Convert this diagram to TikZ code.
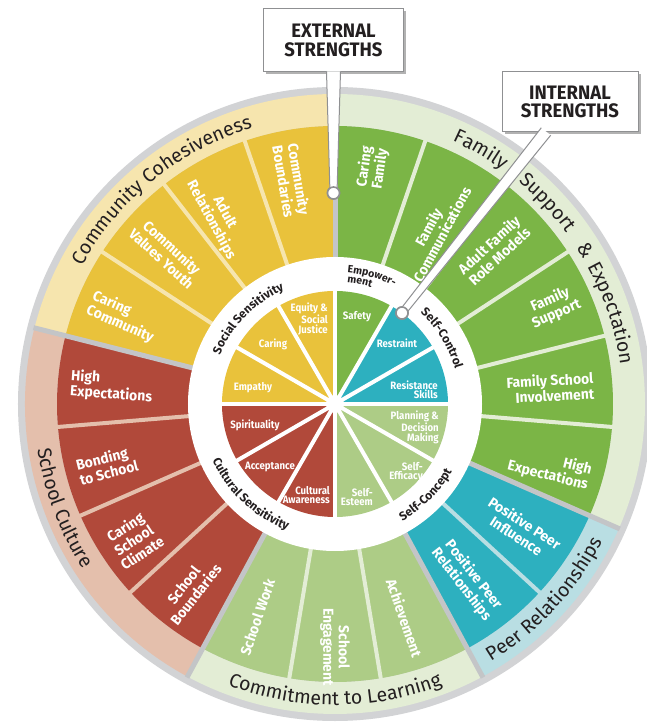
\documentclass[tikz,border=0pt]{standalone}
\usepackage{fontspec}
\setmainfont{Fira Sans}
\newfontfamily\labfam[FakeStretch=0.96]{Fira Sans}
\newfontfamily\innfam[FakeStretch=0.9]{Fira Sans}
\newfontfamily\callfam[FakeStretch=0.95]{Fira Sans}
\usetikzlibrary{decorations.text,calc,shadows}
\definecolor{cyel}{HTML}{E9C23B}
\definecolor{cyelband}{HTML}{F6E5AE}
\definecolor{cgrn}{HTML}{7BB546}
\definecolor{cgrnband}{HTML}{E3EDD5}
\definecolor{cteal}{HTML}{2DB0BF}
\definecolor{ctealband}{HTML}{B9DEE3}
\definecolor{clgrn}{HTML}{ADCC86}
\definecolor{cred}{HTML}{B1493A}
\definecolor{credband}{HTML}{E4BFAC}
\definecolor{cgrey}{HTML}{D2D3D5}
\definecolor{cdiv}{HTML}{C3C5C7}
\definecolor{cptr}{HTML}{8F9092}
\definecolor{ink}{HTML}{231F20}
\newcommand\wedgefill[5]{\fill[#1] (#2:#4) arc[start angle=#2,end angle=#3,radius=#4] -- (#3:#5) arc[start angle=#3,end angle=#2,radius=#5] -- cycle;}
\newcommand\bandfont{\fontsize{19.5}{20}\selectfont}
\newcommand\catfont{\bfseries\fontsize{12}{12}\selectfont}
\newcommand\cwtext[5]{\path[decorate,decoration={text along path,text={|#1|#2},text align=center,text color=ink}] ({#3+#5}:#4) arc[start angle={#3+#5},end angle={#3-#5},radius=#4];}
\newcommand\ccwtext[5]{\path[decorate,decoration={text along path,text={|#1|#2},text align=center,text color=ink}] ({#3-#5}:#4) arc[start angle={#3-#5},end angle={#3+#5},radius=#4];}
\tikzset{
  outlab/.style={text=white, font=\labfam\bfseries\fontsize{14.5}{15.5}\selectfont, align=center, inner sep=0pt},
  innlab/.style={text=white, font=\innfam\bfseries\fontsize{10.7}{9.4}\selectfont, align=center, inner sep=0pt},
  callbox/.style={draw=cptr, line width=1pt, fill=white, text=ink, align=center,
    font=\callfam\bfseries\fontsize{19.5}{18.5}\selectfont,
    drop shadow={shadow xshift=2.5pt, shadow yshift=-2.5pt, fill=black!30, opacity=1}},
  ptrdot/.style={circle, fill=white, draw=cptr, line width=1.6pt, minimum size=12pt, inner sep=0pt},
}
\begin{document}
\begin{tikzpicture}[x=1pt,y=1pt]
\fill[white] (-335,-318) rectangle (311,404);
\useasboundingbox (-335,-318) rectangle (311,404);
\def\s{18.947368}
% outer grey ring
\fill[cgrey] (0,0) circle[radius=317pt];
% category bands
\wedgefill{cgrnband}{90}{-23.684}{278pt}{310pt}
\wedgefill{ctealband}{-23.684}{-61.579}{278pt}{310pt}
\wedgefill{cgrnband}{-61.579}{-118.421}{278pt}{310pt}
\wedgefill{credband}{-118.421}{-194.211}{278pt}{310pt}
\wedgefill{cyelband}{165.789}{90}{278pt}{310pt}
% outer segments
\foreach \k/\c in {0/cgrn,1/cgrn,2/cgrn,3/cgrn,4/cgrn,5/cgrn,6/cteal,7/cteal,8/clgrn,9/clgrn,10/clgrn,11/cred,12/cred,13/cred,14/cred,15/cyel,16/cyel,17/cyel,18/cyel}{
  \pgfmathsetmacro\aa{90-\k*\s}
  \pgfmathsetmacro\bb{90-(\k+1)*\s}
  \wedgefill{\c}{\aa}{\bb}{146pt}{278pt}
}
% gaps within categories
\foreach \k/\c in {1/cgrnband,2/cgrnband,3/cgrnband,4/cgrnband,5/cgrnband,7/ctealband,9/cgrnband,10/cgrnband,12/credband,13/credband,14/credband,16/cyelband,17/cyelband,18/cyelband}{
  \pgfmathsetmacro\aa{90-\k*\s}
  \draw[\c, line width=4pt] (\aa:146pt) -- (\aa:279pt);
}
% category dividers
\foreach \k in {0,6,8,11,15}{
  \pgfmathsetmacro\aa{90-\k*\s}
  \draw[cdiv, line width=5pt] (\aa:146pt) -- (\aa:311pt);
}
% white ring
\fill[white] (0,0) circle[radius=147pt];
% inner wheel
\foreach \i/\c in {0/cgrn,1/cteal,2/cteal,3/clgrn,4/clgrn,5/clgrn,6/cred,7/cred,8/cred,9/cyel,10/cyel,11/cyel}{
  \pgfmathsetmacro\aa{90-30*\i}
  \pgfmathsetmacro\bb{60-30*\i}
  \fill[\c] (0,0) -- (\aa:113pt) arc[start angle=\aa,end angle=\bb,radius=113pt] -- cycle;
}
\foreach \a in {0,30,...,330} \draw[white, line width=4pt] (0,0) -- (\a:114pt);
\fill[white] (0,0) circle[radius=9pt];

% outer segment labels
\node[outlab, rotate=82] (o0) at (81:239pt) {Caring\\Family};
\node[outlab, rotate=61.6] (o1) at (60:200pt) {Family\\Communications};
\node[outlab, rotate=42.6] (o2) at (44:221pt) {Adult Family\\Role Models};
\node[outlab, rotate=23.7] (o3) at (24:239pt) {Family\\Support};
\node[outlab, rotate=3, align=right] (o4) at (4.3:216pt) {Family School\\Involvement};
\node[outlab, rotate=-14, align=right] (o5) at (-16.6:224pt) {High\\Expectations};
\node[outlab, rotate=-33] (o6) at (-34:224pt) {Positive Peer\\Influence};
\node[outlab, rotate=-52] (o7) at (-53:220pt) {Positive Peer\\Relationships};
\node[outlab, rotate=-71] (o8) at (-72:225pt) {Achievement};
\node[outlab, rotate=-90] (o9) at (-90:243pt) {School\\Engagement};
\node[outlab, rotate=71] (o10) at (-110:227pt) {School Work};
\node[outlab, rotate=52] (o11) at (-128:236pt) {School\\Boundaries};
\node[outlab, rotate=33] (o12) at (-146:243pt) {Caring\\School\\Climate};
\node[outlab, rotate=14, align=left] (o13) at (-165:236pt) {Bonding\\to School};
\node[outlab, rotate=-4, align=left] (o14) at (175.6:224pt) {High\\Expectations};
\node[outlab, rotate=-23.7, align=left] (o15) at (157.7:229pt) {Caring\\Community};
\node[outlab, rotate=-42.6] (o16) at (138:226pt) {Community\\Values Youth};
\node[outlab, rotate=-61.6] (o17) at (122:221pt) {Adult\\Relationships};
\node[outlab, rotate=-80.5] (o18) at (101:228pt) {Community\\Boundaries};

% inner labels
\node[innlab] (i0) at (22,87) {Safety};
\node[innlab] (i1) at (62,61) {Restraint};
\node[innlab, align=right, anchor=east] (i2) at (103,14) {Resistance\\Skills};
\node[innlab, align=right, anchor=east] (i3) at (104,-23.5) {Planning \&\\Decision\\Making};
\node[innlab, align=right, anchor=east] (i4) at (88,-68) {Self-\\Efficacy};
\node[innlab, align=right, anchor=east] (i5) at (38,-93) {Self-\\Esteem};
\node[innlab, align=right, anchor=east] (i6) at (-5,-91) {Cultural\\Awareness};
\node[innlab] (i7) at (-65,-63) {Acceptance};
\node[innlab] (i8) at (-80,-21) {Spirituality};
\node[innlab] (i9) at (-82,16) {Empathy};
\node[innlab] (i10) at (-62,60) {Caring};
\node[innlab, align=right, anchor=east] (i11) at (-7,85) {Equity \&\\Social\\Justice};

% inner category labels
\cwtext{\catfont}{Social Sensitivity}{135.5}{125pt}{40}
\cwtext{\catfont}{Self-Control}{31.5}{125pt}{35}
\cwtext{\bfseries\fontsize{10.5}{10.5}\selectfont}{Empower-}{74}{132pt}{25}
\cwtext{\bfseries\fontsize{10.5}{10.5}\selectfont}{ment}{78.5}{122pt}{20}
\ccwtext{\catfont}{Self-Concept}{-45}{135pt}{35}
\ccwtext{\catfont}{Cultural Sensitivity}{-133}{135pt}{40}

% band labels
\cwtext{\bandfont}{Community Cohesiveness}{129}{288pt}{35}
\cwtext{\bandfont}{Family}{60.2}{288pt}{12}
\cwtext{\bandfont}{Support}{43.4}{288pt}{12}
\cwtext{\bandfont}{{\&}}{31.6}{288pt}{6}
\cwtext{\bandfont}{Expectation}{18.2}{288pt}{16}
\ccwtext{\bandfont}{Peer Relationships}{-43}{301pt}{25}
\ccwtext{\bandfont}{Commitment to Learning}{-90}{301pt}{30}
\ccwtext{\bandfont}{School Culture}{-159}{301pt}{22}

% callouts
\node[callbox, minimum width=139pt, minimum height=63pt] (ext) at (-1.5,363.5) {EXTERNAL\\STRENGTHS};
\node[callbox, minimum width=136pt, minimum height=60pt] (int) at (235,302) {INTERNAL\\STRENGTHS};
\node[ptrdot] (extdot) at (-1.5,211) {};
\node[ptrdot] (intdot) at (67,91) {};
\coordinate (extA) at ([yshift=1pt]ext.south);
\coordinate (intA) at ([xshift=-24pt,yshift=1pt]int.south);
\fill[white] ($(extA)!7pt!90:(extdot)$) -- ($(extdot)!3.5pt!-90:(extA)$) -- ($(extdot)!3.5pt!90:(extA)$) -- ($(extA)!7pt!-90:(extdot)$) -- cycle;
\draw[cptr, line width=1pt] ($(extA)!7pt!90:(extdot)$) -- ($(extdot)!3.5pt!-90:(extA)$);
\draw[cptr, line width=1pt] ($(extA)!7pt!-90:(extdot)$) -- ($(extdot)!3.5pt!90:(extA)$);
\fill[white] ($(intA)!6pt!90:(intdot)$) -- ($(intdot)!3.5pt!-90:(intA)$) -- ($(intdot)!3.5pt!90:(intA)$) -- ($(intA)!6pt!-90:(intdot)$) -- cycle;
\draw[cptr, line width=1pt] ($(intA)!6pt!90:(intdot)$) -- ($(intdot)!3.5pt!-90:(intA)$);
\draw[cptr, line width=1pt] ($(intA)!6pt!-90:(intdot)$) -- ($(intdot)!3.5pt!90:(intA)$);
\node[ptrdot] at (extdot) {};
\node[ptrdot] at (intdot) {};
\end{tikzpicture}
\end{document}
